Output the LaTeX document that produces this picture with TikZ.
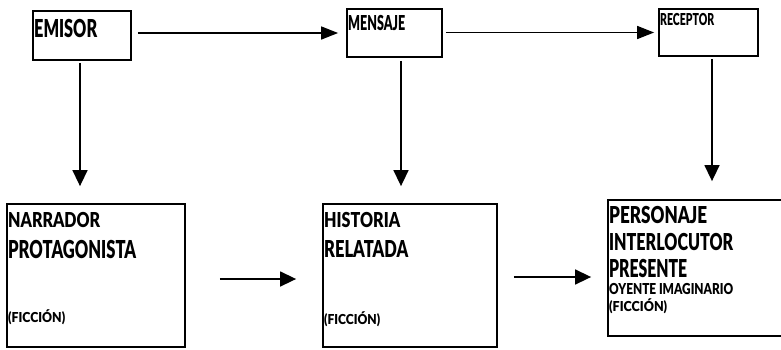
\documentclass[tikz,border=0pt]{standalone}
\usepackage{graphicx}
\usepackage{fontspec}
\setmainfont{Liberation Sans}
\newfontfamily\lblfont{Lato Black}
\usetikzlibrary{arrows.meta}

% squeeze a capital-letter label into a given width and cap height
\newcommand\fitlbl[3]{\resizebox{#1}{#2}{\lblfont\vphantom{E}\smash{#3}}}

\tikzset{
  box/.style={draw, line width=1.8pt, inner sep=0pt},
  lbl/.style={inner sep=0pt, anchor=base west},
  flow/.style={line width=1.5pt, -{Triangle[length=16pt,width=15pt]}},
  topflow/.style={line width=1.5pt, -{Triangle[length=17pt,width=13pt]}},
}

\begin{document}
\begin{tikzpicture}[x=1pt,y=-1pt]
\path[use as bounding box, clip] (0,0) rectangle (781,349);
\fill[white] (0,0) rectangle (781,349);

% upper row
\node[box, minimum width=98pt, minimum height=49pt] (emisor) at (82,35.5) {};
\node[box, minimum width=95pt, minimum height=48pt] (mensaje) at (394.5,33) {};
\node[box, minimum width=99pt, minimum height=47pt] (receptor) at (708.5,32.5) {};

% lower row
\node[box, minimum width=178pt, minimum height=143pt] (narrador) at (96,275.5) {};
\node[box, minimum width=174pt, minimum height=143pt] (historia) at (410,275.5) {};
\node[box, minimum width=182pt, minimum height=136pt] (personaje) at (699,268) {};

% labels
\node[lbl] (temisor) at (34,37) {\fitlbl{63pt}{18pt}{EMISOR}};
\node[lbl] (tmensaje) at (348,30) {\fitlbl{57pt}{15pt}{MENSAJE}};
\node[lbl] (treceptor) at (660,25) {\fitlbl{54pt}{12pt}{RECEPTOR}};

\node[lbl] (tn1) at (8,227) {\fitlbl{92pt}{15pt}{NARRADOR}};
\node[lbl] (tn2) at (8,258) {\fitlbl{128pt}{18pt}{PROTAGONISTA}};
\node[lbl] (tn3) at (8,322) {\fitlbl{57pt}{10pt}{(FICCIÓN)}};

\node[lbl] (th1) at (324,227) {\fitlbl{76pt}{15pt}{HISTORIA}};
\node[lbl] (th2) at (324,257) {\fitlbl{84pt}{17pt}{RELATADA}};
\node[lbl] (th3) at (324,324) {\fitlbl{56pt}{10pt}{(FICCIÓN)}};

\node[lbl] (tp1) at (609,223) {\fitlbl{98pt}{17pt}{PERSONAJE}};
\node[lbl] (tp2) at (609,250) {\fitlbl{124pt}{17pt}{INTERLOCUTOR}};
\node[lbl] (tp3) at (609,277) {\fitlbl{78pt}{18pt}{PRESENTE}};
\node[lbl] (tp4) at (609,294) {\fitlbl{124pt}{11pt}{OYENTE IMAGINARIO}};
\node[lbl] (tp5) at (609,311) {\fitlbl{58pt}{10pt}{(FICCIÓN)}};

% connectors along the upper row
\draw[topflow, shorten <=6pt, shorten >=8pt]
  ([yshift=2.5pt]emisor.east) -- ([yshift=2.5pt]emisor.east -| mensaje.west);
\draw[topflow, shorten <=3pt, shorten >=4pt]
  ([yshift=0.5pt]mensaje.east) -- ([yshift=0.5pt]mensaje.east -| receptor.west);

% downward connectors
\draw[flow, shorten <=2pt, shorten >=17pt]
  ([xshift=-2pt]emisor.south) -- ([xshift=-2pt]emisor.south |- narrador.north);
\draw[flow, shorten <=3pt, shorten >=17pt]
  ([xshift=6.5pt]mensaje.south) -- ([xshift=6.5pt]mensaje.south |- historia.north);
\draw[flow, shorten <=2pt, shorten >=18pt]
  ([xshift=3.5pt]receptor.south) -- ([xshift=3.5pt]receptor.south |- personaje.north);

% connectors along the lower row
\draw[flow, shorten <=34pt, shorten >=26pt]
  ([yshift=-3.5pt]narrador.east) -- ([yshift=-3.5pt]narrador.east -| historia.west);
\draw[flow, shorten <=16pt, shorten >=16pt]
  ([yshift=-1.5pt]historia.east) -- ([yshift=-1.5pt]historia.east -| personaje.west);
\end{tikzpicture}
\end{document}
